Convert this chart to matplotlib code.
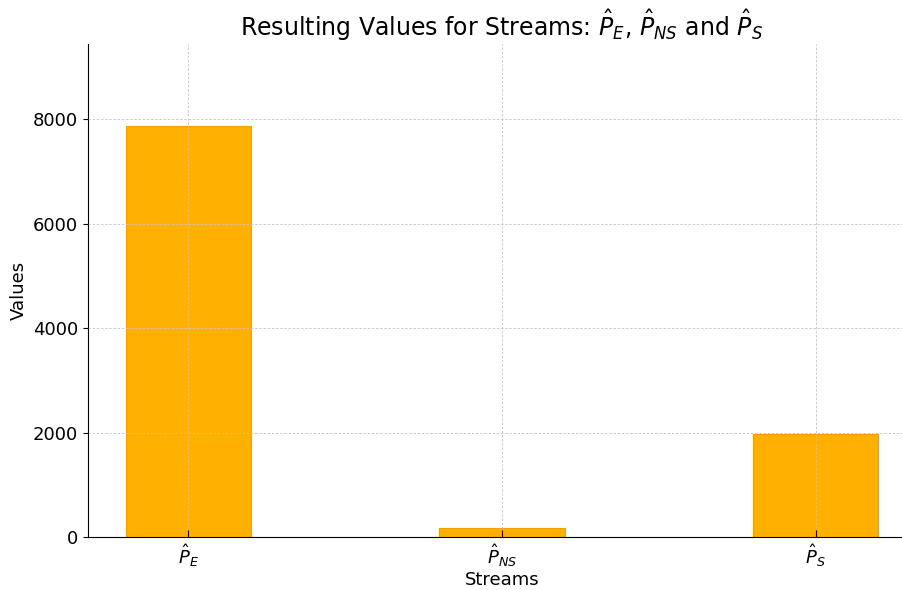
import matplotlib
matplotlib.use("Agg")
import matplotlib.pyplot as plt

categories = [r'$\hat{P}_E$', r'$\hat{P}_{NS}$', r'$\hat{P}_S$']
values = [7870, 172, 1975]

fig = plt.figure(figsize=(9.03, 5.90), dpi=100)
ax = fig.add_axes([88/903, 53/590, 828/903, 493/590])
x = list(range(len(categories)))
ax.bar(x, values, width=0.4, color='#FFB000', edgecolor='#F0A000', linewidth=0.8, zorder=1)
ax.set_xticks(x)
ax.set_xticklabels(categories, fontsize=13)
ax.set_xlim(-0.32, 2.32)
ax.set_ylim(0, max(values) * 1.2)
ax.set_yticks([0, 2000, 4000, 6000, 8000])
ax.tick_params(axis='y', labelsize=13)
ax.tick_params(axis='x', direction='in', length=5)
ax.grid(True, linestyle=(0, (3, 2)), color='#c4c4c4', linewidth=0.6, zorder=3)
ax.set_axisbelow(False)
for s in ['top', 'right']:
    ax.spines[s].set_visible(False)
ax.set_xlabel('Streams', fontsize=13, labelpad=2)
ax.set_ylabel('Values', fontsize=13)
ax.set_title(r'Resulting Values for Streams: $\hat{P}_E$, $\hat{P}_{NS}$ and $\hat{P}_S$', fontsize=17)
fig.savefig('out.png', dpi=100)
